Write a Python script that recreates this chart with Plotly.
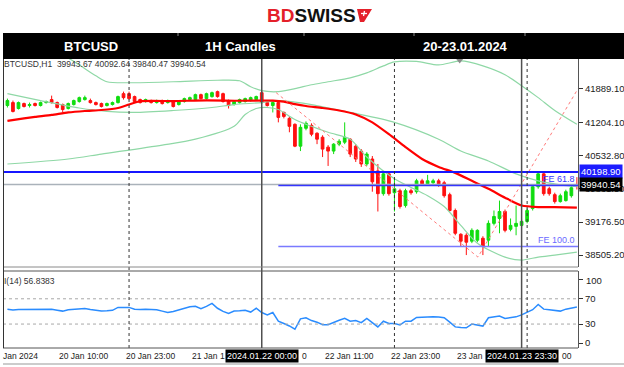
import plotly.graph_objects as go

W, H = 624, 367
def px(x): return x / W
def py(y): return 1 - y / H

# ---------------- data ----------------
opens = [41552, 41612, 41491, 41592, 41552, 41592, 41552, 41612, 41673, 41612,
 41572, 41491, 41572, 41633, 41673, 41653, 41612, 41592, 41552, 41572,
 41612, 41794, 41794, 41734, 41673, 41633, 41653, 41612, 41653, 41612,
 41633, 41572, 41633, 41673, 41673, 41774, 41693, 41734, 41835, 41794,
 41653, 41572, 41612, 41633, 41653, 41673, 41814, 41612, 41552, 41612,
 41411, 41290, 41169, 40724, 41088, 41148, 40987, 40906, 40704, 40624,
 40765, 40805, 40866, 40724, 40624, 40361, 40462, 40220, 39756, 40160,
 39776, 39816, 39514, 39816, 39796, 40018, 39958, 39978, 40018, 39978,
 39736, 39413, 38929, 38909, 38788, 38808, 38848, 38808, 39151, 39251,
 39393, 39030, 39090, 39110, 39191, 39453, 39897, 40160, 39857, 39736,
 39595, 39615, 39715, 39943.67]
highs = [41693, 41653, 41633, 41612, 41612, 41612, 41633, 41653, 41754, 41633,
 41592, 41612, 41673, 41734, 41754, 41693, 41633, 41612, 41612, 41633,
 41754, 41835, 41835, 41754, 41693, 41693, 41673, 41673, 41673, 41673,
 41653, 41653, 41713, 41734, 41794, 41794, 41814, 41835, 41855, 41814,
 41673, 41653, 41693, 41713, 41734, 41754, 41855, 41633, 41633, 41653,
 41431, 41330, 41189, 41169, 41229, 41189, 41007, 40946, 40745, 40785,
 40866, 41209, 40886, 40765, 40664, 40603, 40523, 40361, 40200, 40200,
 40059, 39857, 39857, 39857, 40059, 40059, 40139, 40059, 40059, 40018,
 39776, 39453, 38949, 38949, 39050, 39030, 38889, 39211, 39413, 39615,
 39433, 39251, 39514, 39231, 39453, 39937, 40200, 40200, 39897, 39776,
 39756, 39837, 39917, 40092.64]
lows = [41512, 41411, 41471, 41512, 41512, 41532, 41532, 41592, 41592, 41491,
 41411, 41471, 41552, 41612, 41653, 41592, 41552, 41512, 41532, 41552,
 41592, 41673, 41673, 41612, 41592, 41612, 41592, 41592, 41572, 41592,
 41512, 41552, 41612, 41653, 41653, 41673, 41673, 41713, 41713, 41612,
 41491, 41552, 41592, 41612, 41633, 41653, 41592, 41532, 41411, 41209,
 41290, 41007, 40704, 40624, 41047, 40926, 40765, 40502, 40321, 40563,
 40724, 40765, 40502, 40402, 40301, 40321, 39796, 39393, 39715, 39715,
 39393, 39453, 39473, 39736, 39756, 39917, 39937, 39958, 39897, 39675,
 39393, 38909, 38687, 38505, 38748, 38767, 38505, 38687, 39110, 38949,
 38969, 38989, 38909, 39070, 39151, 39413, 39857, 39715, 39715, 39554,
 39574, 39595, 39675, 39840.47]
closes = [41653, 41431, 41612, 41532, 41572, 41552, 41612, 41633, 41612, 41512,
 41471, 41592, 41653, 41713, 41713, 41612, 41572, 41532, 41592, 41612,
 41734, 41713, 41693, 41633, 41612, 41673, 41612, 41653, 41592, 41653,
 41532, 41633, 41693, 41713, 41774, 41693, 41794, 41814, 41734, 41633,
 41552, 41633, 41673, 41693, 41713, 41734, 41612, 41552, 41612, 41310,
 41330, 41128, 40724, 41108, 41189, 40967, 40866, 40664, 40624, 40765,
 40825, 40906, 40563, 40462, 40361, 40563, 39998, 39756, 40160, 39756,
 39857, 39494, 39816, 39776, 40018, 39958, 40018, 40018, 39937, 39715,
 39413, 38949, 38788, 38767, 39009, 39009, 38687, 39151, 39292, 39393,
 39009, 39110, 39151, 39191, 39413, 39897, 40160, 39756, 39756, 39595,
 39715, 39796, 39877, 39940.54]
bars = list(range(len(closes)))

ma_x = [0, 3, 5, 8, 11, 14, 17, 20, 22, 24, 30, 36, 42, 48, 50, 52, 54, 57, 60, 63,
        66, 69, 72, 75, 78, 81, 84, 87, 90, 93, 96, 99, 103]
ma_y = [41239, 41290, 41320, 41360, 41411, 41441, 41461, 41501, 41572, 41639,
        41643, 41657, 41649, 41653, 41633, 41582, 41542, 41501, 41451, 41370,
        41209, 40967, 40704, 40462, 40301, 40180, 40018, 39857, 39675, 39514,
        39483, 39483, 39473]

bb_up_x = [0, 6, 10, 13, 16, 18, 22, 30, 38, 42, 44, 46, 49, 52, 55, 58, 62, 65, 68, 70,
           74, 78, 82, 86, 90, 93, 96, 99, 103]
bb_up_y = [42884, 42722, 42581, 42379, 42157, 42036, 42016, 42036, 42067, 42056,
           41935, 41855, 41835, 41895, 41976, 42036, 42117, 42218, 42359, 42440,
           42450, 42379, 42460, 42359, 42178, 41956, 41713, 41451, 41169]
bb_mid_x = [0, 6, 13, 18, 23, 30, 37, 41, 46, 49, 52, 55, 62, 70, 78, 82, 87, 92, 96, 100, 103]
bb_mid_y = [41794, 41653, 41501, 41431, 41411, 41451, 41512, 41572, 41612, 41653,
            41623, 41572, 41411, 41209, 40866, 40624, 40422, 40160, 40018, 39937, 39897]
bb_low_x = [0, 11, 17, 28, 34, 41, 43, 45, 47, 49, 52, 58, 62, 65, 70, 76, 79, 82, 85, 90,
            93, 96, 99, 103]
bb_low_y = [40361, 40462, 40563, 40745, 40866, 41128, 41370, 41491, 41512, 41471,
            41269, 41007, 40866, 40502, 40059, 39715, 39494, 39110, 38748, 38464,
            38404, 38464, 38505, 38565]

rsi = [53.6, 52.4, 53.0, 53.2, 53.0, 53.0, 53.0, 53.4, 53.6, 52.0,
 50.5, 52.7, 53.5, 54.0, 54.5, 53.0, 51.5, 50.5, 51.0, 51.8,
 56.4, 56.0, 56.4, 53.6, 53.0, 53.6, 53.6, 52.7, 50.5, 48.2,
 50.0, 52.7, 55.0, 57.3, 58.2, 54.5, 58.0, 62.7, 55.0, 50.0,
 46.8, 50.5, 51.0, 51.8, 49.0, 55.0, 48.2, 44.5, 48.2, 34.5,
 30.9, 27.0, 21.8, 38.2, 40.0, 35.5, 33.0, 29.0, 29.0, 33.0,
 36.0, 39.0, 34.5, 35.5, 32.3, 39.0, 32.3, 25.5, 34.5, 30.9,
 30.9, 28.6, 34.5, 34.5, 40.5, 41.0, 41.4, 41.4, 41.0, 40.0,
 33.0, 25.5, 24.5, 24.1, 30.0, 28.0, 26.8, 40.0, 41.0, 42.7,
 39.0, 40.0, 41.4, 44.5, 48.0, 52.7, 60.9, 53.6, 52.7, 51.0,
 50.5, 53.6, 55.0, 56.8383]

fibo_x = [48.6, 85.1, 103.2]
fibo_y = [41814, 38464, 41895]
fe_start = 49
fe_levels = [39923, 38680]
fe_labels = ["FE 61.8", "FE 100.0"]
level_line = 40198.90
last_price = 39940.54

price_ticks = [41889.10, 41204.10, 40532.80, 39861.50, 39176.50, 38505.20]
rsi_ticks = [100, 70, 30, 0]
# visible parts of the time-axis labels (some are partly covered by the line boxes)
time_ticks = [9, 21, 33, 57, 69, 81]
time_texts = ["20 Jan 10:00", "20 Jan 23:00", "21 Jan 1", "22 Jan 11:00", "22 Jan 23:00", "23 Jan"]
tail_ticks = [45, 93]
tail_texts = ["0", "00"]
day_separators = [22, 70, 94]
vlines = [46, 93]
vline_texts = ["2024.01.22 00:00", "2024.01.23 23:30"]

FONT = "Liberation Sans, Arial, sans-serif"
GREEN = "#10dd10"
RED = "#ff1010"

fig = go.Figure()

band_style = dict(color="#8fd8a6", width=1.2, shape="spline", smoothing=0.8)
for bx, by in [(bb_up_x, bb_up_y), (bb_mid_x, bb_mid_y), (bb_low_x, bb_low_y)]:
    fig.add_trace(go.Scatter(x=bx, y=by, mode="lines", line=band_style,
                             xaxis="x", yaxis="y", hoverinfo="skip"))

fig.add_trace(go.Candlestick(
    x=bars, open=opens, high=highs, low=lows, close=closes,
    increasing=dict(line=dict(color=GREEN, width=1), fillcolor=GREEN),
    decreasing=dict(line=dict(color=RED, width=1), fillcolor=RED),
    whiskerwidth=0, xaxis="x", yaxis="y"))

fig.add_trace(go.Scatter(x=ma_x, y=ma_y, mode="lines",
                         line=dict(color="#ff0000", width=2.2, shape="spline", smoothing=0.6),
                         xaxis="x", yaxis="y"))

fig.add_trace(go.Scatter(x=fibo_x, y=fibo_y, mode="lines",
                         line=dict(color="#ff7b7b", width=1, dash="dot"),
                         xaxis="x", yaxis="y"))

fig.add_trace(go.Scatter(x=[81.8], y=[42470], mode="markers",
                         marker=dict(symbol="triangle-down", size=6, color="#8a8a8a"),
                         xaxis="x", yaxis="y"))

fig.add_trace(go.Scatter(x=bars, y=rsi, mode="lines",
                         line=dict(color="#2a8cff", width=1.5),
                         xaxis="x", yaxis="y2"))

shapes = []
# header bar
shapes.append(dict(type="rect", xref="paper", yref="paper", x0=px(3), x1=px(624),
                   y0=py(59), y1=py(33), fillcolor="black", line=dict(width=0), layer="above"))
for sx in [178, 304, 414, 525]:
    shapes.append(dict(type="line", xref="paper", yref="paper", x0=px(sx), x1=px(sx),
                       y0=py(33), y1=py(36), line=dict(color="#888", width=1)))
# horizontal lines in price panel
shapes.append(dict(type="line", xref="paper", yref="y", x0=px(3), x1=px(578),
                   y0=last_price, y1=last_price, line=dict(color="#aab2ba", width=1.5)))
for lvl, col in zip(fe_levels, ["#3535ff", "#7a7aff"]):
    shapes.append(dict(type="line", xref="x", yref="y", x0=fe_start, x1=103.2,
                       y0=lvl, y1=lvl, line=dict(color=col, width=1.5)))
shapes.append(dict(type="line", xref="paper", yref="y", x0=px(3), x1=px(578),
                   y0=level_line, y1=level_line, line=dict(color="#1717ff", width=2)))
# rsi levels
for lv in [70, 30]:
    shapes.append(dict(type="line", xref="paper", yref="y2", x0=px(3), x1=px(578),
                       y0=lv, y1=lv, line=dict(color="#a8a8a8", width=1, dash="dot")))
# vertical separators
for d in day_separators:
    shapes.append(dict(type="line", xref="x", yref="paper", x0=d, x1=d,
                       y0=py(348), y1=py(59), line=dict(color="#333", width=1, dash="dot")))
for v in vlines:
    shapes.append(dict(type="line", xref="x", yref="paper", x0=v, x1=v,
                       y0=py(348), y1=py(59), line=dict(color="#505050", width=1.5)))
# frames
for yy, col in [(267, "#8a8a8a"), (271, "#555"), (348, "#555"), (364, "#999")]:
    shapes.append(dict(type="line", xref="paper", yref="paper", x0=px(3), x1=px(578 if yy < 360 else 624),
                       y0=py(yy), y1=py(yy), line=dict(color=col, width=1)))
shapes.append(dict(type="line", xref="paper", yref="paper", x0=px(3.5), x1=px(3.5),
                   y0=py(348), y1=py(59), line=dict(color="#333", width=1)))
# logo flag
flag = "M {} {} L {} {} L {} {} L {} {} Z".format(px(357), py(9), px(372), py(9), px(364), py(22), px(360), py(22))
shapes.append(dict(type="path", xref="paper", yref="paper", path=flag,
                   fillcolor="#e4202a", line=dict(width=0)))
plus_h = "M {} {} L {} {}".format(px(361), py(13.5), px(367), py(13.5))
plus_v = "M {} {} L {} {}".format(px(364.5), py(11), px(363.5), py(16))
for p in [plus_h, plus_v]:
    shapes.append(dict(type="path", xref="paper", yref="paper", path=p,
                       line=dict(color="white", width=1.3)))

ann = []
def text(x, y, t, size=9, color="#222", anchor="left", bold=False, **kw):
    ann.append(dict(xref="paper", yref="paper", x=px(x), y=py(y), text=("<b>%s</b>" % t) if bold else t,
                    showarrow=False, xanchor=anchor, yanchor="middle",
                    font=dict(family=FONT, size=size, color=color), **kw))

ann.append(dict(xref="paper", yref="paper", x=px(311), y=py(15), xanchor="center", yanchor="middle",
                text='<b><span style="color:#e4202a">BD</span>SWISS</b>', showarrow=False,
                font=dict(family=FONT, size=19, color="#111")))
text(91, 46.5, "BTCUSD", 13, "white", "center", True)
text(240, 46.5, "1H Candles", 13, "white", "center", True)
text(465, 46.5, "20-23.01.2024", 13, "white", "center", True)
text(2, 64, "BTCUSD,H1  39943.67 40092.64 39840.47 39940.54", 8.5, "#333")
text(2, 281, "I(14) 56.8383", 8.5, "#333")
text(1, 356, "Jan 2024", 8.5, "#222")
text(584, 280, "100", 9.5, "#222")

for tx, tt in zip(time_ticks, time_texts):
    ann.append(dict(xref="x", yref="paper", x=tx, y=py(356), text=tt, showarrow=False,
                    xanchor="left", yanchor="middle", font=dict(family=FONT, size=8.5, color="#222")))
for tx, tt in zip(tail_ticks, tail_texts):
    ann.append(dict(xref="x", yref="paper", x=tx, y=py(356), text=tt, showarrow=False,
                    xanchor="left", yanchor="middle", xshift=44 if tt == "0" else 38,
                    font=dict(family=FONT, size=8.5, color="#222")))
for vx, vt in zip(vlines, vline_texts):
    ann.append(dict(xref="x", yref="paper", x=vx, y=py(356), text=vt, showarrow=False,
                    xanchor="center", yanchor="middle", bgcolor="black", borderpad=1,
                    font=dict(family=FONT, size=9, color="white")))

for lvl, lab, col in zip(fe_levels, fe_labels, ["#3535ff", "#6a6aff"]):
    ann.append(dict(xref="paper", yref="y", x=px(577), y=lvl, text=lab, showarrow=False,
                    xanchor="right", yanchor="bottom", yshift=-1,
                    font=dict(family=FONT, size=9, color=col)))

for val, bg in [(level_line, "#1c1cff"), (last_price, "black")]:
    ann.append(dict(xref="paper", yref="y", x=px(579), y=val, text="%.2f" % val, showarrow=False,
                    xanchor="left", yanchor="middle", bgcolor=bg, borderpad=1,
                    font=dict(family=FONT, size=9.5, color="white")))

fig.update_layout(
    width=W, height=H, margin=dict(l=0, r=0, t=0, b=0),
    paper_bgcolor="white", plot_bgcolor="white", showlegend=False,
    xaxis=dict(domain=[px(3), px(578)], range=[-0.8, 103.2], visible=False,
               rangeslider=dict(visible=False), fixedrange=True),
    yaxis=dict(domain=[py(267), py(59)], range=[38262, 42500], side="right", anchor="x",
               tickvals=price_ticks, ticktext=["%.2f" % v for v in price_ticks],
               ticks="outside", ticklen=4, tickcolor="#333", showgrid=False, zeroline=False,
               showline=True, linecolor="#555", linewidth=1,
               tickfont=dict(family=FONT, size=9.5, color="#222")),
    yaxis2=dict(domain=[py(348), py(271)], range=[-7.9, 114], side="right", anchor="x",
                tickvals=rsi_ticks, ticktext=[""] + [str(v) for v in rsi_ticks[1:]],
                ticks="outside", ticklen=4, tickcolor="#333",
                showgrid=False, zeroline=False, showline=True, linecolor="#555", linewidth=1,
                tickfont=dict(family=FONT, size=9.5, color="#222")),
    shapes=shapes, annotations=ann,
)

fig.write_html("out.html")
